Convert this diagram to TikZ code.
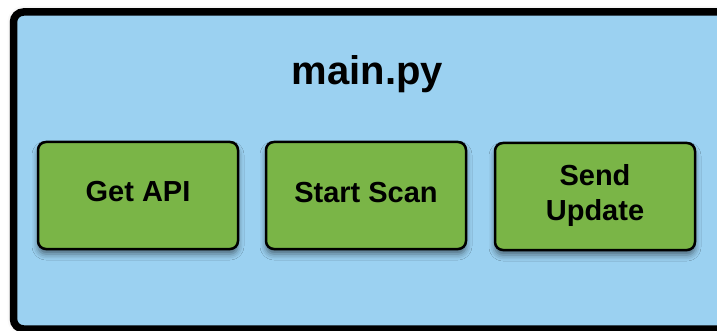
\documentclass[tikz,border=0pt]{standalone}
\usepackage{fontspec}
\setmainfont{Liberation Sans}
\usetikzlibrary{shadows.blur}

\definecolor{panelblue}{RGB}{155,209,241}
\definecolor{taskgreen}{RGB}{122,181,71}

\tikzset{
  panel/.style={draw=black, line width=7.5pt, fill=panelblue, rounded corners=10pt,
    blur shadow={shadow xshift=0pt, shadow yshift=0pt, shadow blur radius=6pt, shadow opacity=35}},
  taskbox/.style={draw=black, line width=2.5pt, fill=taskgreen, rounded corners=8pt,
    minimum width=200pt, minimum height=107pt, inner sep=0pt,
    blur shadow={shadow xshift=0pt, shadow yshift=-5pt, shadow blur radius=6pt, shadow opacity=50}},
  tasklabel/.style={font=\fontsize{29}{35}\selectfont\bfseries, inner sep=0pt, align=center},
  titlelabel/.style={font=\fontsize{40}{44}\selectfont\bfseries, inner sep=0pt}
}

\begin{document}
\begin{tikzpicture}[x=1pt, y=-1pt]
  \useasboundingbox (0,0) rectangle (717,331);

  % outer module panel (runs past the right and bottom edges)
  \draw[panel] (13.5,12) rectangle (735,329);
  \node[titlelabel, anchor=base] (title) at (367.5,85) {main.py};

  % task boxes
  \node[taskbox] (api)  at (138,195.5) {};
  \node[taskbox] (scan) at (366,195.5) {};
  \node[taskbox] (send) at (595,196.5) {};

  \node[tasklabel, anchor=base] (apilbl)  at ([yshift=-5.5pt]api.center)  {Get API};
  \node[tasklabel, anchor=base] (scanlbl) at ([yshift=-6.5pt]scan.center) {Start Scan};
  \node[tasklabel] (sendlbl) at ([yshift=1pt]send.center) {Send\\Update};
\end{tikzpicture}
\end{document}
